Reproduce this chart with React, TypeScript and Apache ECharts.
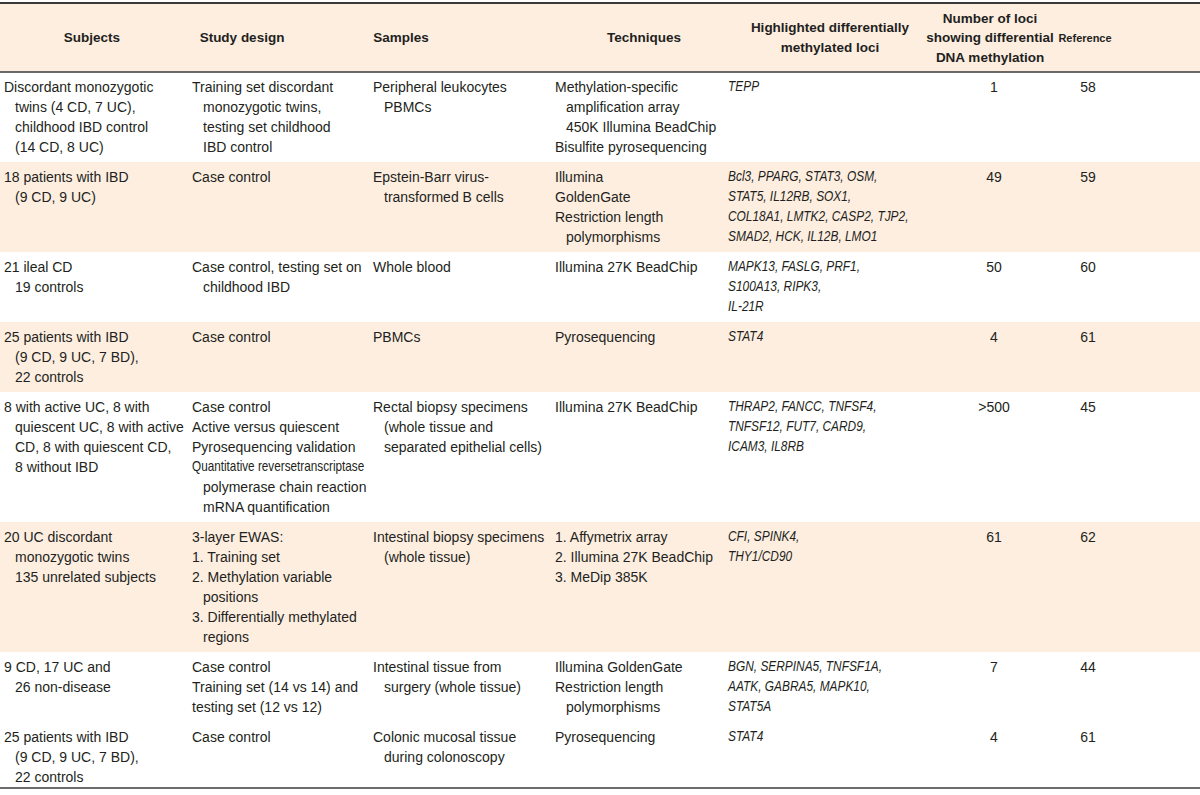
import React, { useEffect, useRef } from 'react';
import * as echarts from 'echarts';

// ---------- DATA ----------
// A leading "  " marks a continuation line (hanging indent) in the original table.
const headers: string[][] = [
  ['Subjects'],
  ['Study design'],
  ['Samples'],
  ['Techniques'],
  ['Highlighted differentially', 'methylated loci'],
  ['Number of loci', 'showing differential', 'DNA methylation'],
  ['Reference'],
];

const subjects: string[][] = [
  ['Discordant monozygotic', '  twins (4 CD, 7 UC),', '  childhood IBD control', '  (14 CD, 8 UC)'],
  ['18 patients with IBD', '  (9 CD, 9 UC)'],
  ['21 ileal CD', '  19 controls'],
  ['25 patients with IBD', '  (9 CD, 9 UC, 7 BD),', '  22 controls'],
  ['8 with active UC, 8 with', '  quiescent UC, 8 with active', '  CD, 8 with quiescent CD,', '  8 without IBD'],
  ['20 UC discordant', '  monozygotic twins', '  135 unrelated subjects'],
  ['9 CD, 17 UC and', '  26 non-disease'],
  ['25 patients with IBD', '  (9 CD, 9 UC, 7 BD),', '  22 controls'],
];

const studyDesign: string[][] = [
  ['Training set discordant', '  monozygotic twins,', '  testing set childhood', '  IBD control'],
  ['Case control'],
  ['Case control, testing set on', '  childhood IBD'],
  ['Case control'],
  ['Case control', 'Active versus quiescent', 'Pyrosequencing validation', 'Quantitative reversetranscriptase', '  polymerase chain reaction', '  mRNA quantification'],
  ['3-layer EWAS:', '1. Training set', '2. Methylation variable', '  positions', '3. Differentially methylated', '  regions'],
  ['Case control', 'Training set (14 vs 14) and', 'testing set (12 vs 12)'],
  ['Case control'],
];

const samples: string[][] = [
  ['Peripheral leukocytes', '  PBMCs'],
  ['Epstein-Barr virus-', '  transformed B cells'],
  ['Whole blood'],
  ['PBMCs'],
  ['Rectal biopsy specimens', '  (whole tissue and', '  separated epithelial cells)'],
  ['Intestinal biopsy specimens', '  (whole tissue)'],
  ['Intestinal tissue from', '  surgery (whole tissue)'],
  ['Colonic mucosal tissue', '  during colonoscopy'],
];

const techniques: string[][] = [
  ['Methylation-specific', '  amplification array', '  450K Illumina BeadChip', 'Bisulfite pyrosequencing'],
  ['Illumina', 'GoldenGate', 'Restriction length', '  polymorphisms'],
  ['Illumina 27K BeadChip'],
  ['Pyrosequencing'],
  ['Illumina 27K BeadChip'],
  ['1. Affymetrix array', '2. Illumina 27K BeadChip', '3. MeDip 385K'],
  ['Illumina GoldenGate', 'Restriction length', '  polymorphisms'],
  ['Pyrosequencing'],
];

const loci: string[][] = [
  ['TEPP'],
  ['Bcl3, PPARG, STAT3, OSM,', 'STAT5, IL12RB, SOX1,', 'COL18A1, LMTK2, CASP2, TJP2,', 'SMAD2, HCK, IL12B, LMO1'],
  ['MAPK13, FASLG, PRF1,', 'S100A13, RIPK3,', 'IL-21R'],
  ['STAT4'],
  ['THRAP2, FANCC, TNFSF4,', 'TNFSF12, FUT7, CARD9,', 'ICAM3, IL8RB'],
  ['CFI, SPINK4,', 'THY1/CD90'],
  ['BGN, SERPINA5, TNFSF1A,', 'AATK, GABRA5, MAPK10,', 'STAT5A'],
  ['STAT4'],
];

const lociCounts: string[] = ['1', '49', '50', '4', '>500', '61', '7', '4'];
const references: string[] = ['58', '59', '60', '61', '45', '62', '44', '61'];

const condensedLines: string[] = ['Quantitative reversetranscriptase'];

// ---------- LAYOUT / STYLE ----------
const W = 1200;
const H = 795;
const FONT = '"Liberation Sans", Arial, sans-serif';
const TEXT_COLOR = '#231f20';
const BAND = '#fdeee0';
const RULE = '#3a3a3a';
const HEADER_TOP = 3;
const HEADER_BOTTOM = 72;
const HEADER_MID = 37.5;
const HEADER_LH = 19.5;
const LINE_H = 20;
const FIRST_OFF = 14.5;
const ROW_PAD = 10;
const LAST_ROW_PAD = 6;
const INDENT = 11;
const ITALIC_SCALE = 0.85;
const CONDENSED_SCALE = 0.84;
const colLeft = [4, 192, 373, 555, 728];
const headerCenters = [92, 242, 401, 644, 830, 990, 1085];
const countCenter = 994;
const refCenter = 1088;
const shadedRows = [false, true, false, true, false, true, false, false];

function textEl(t: string, x: number, y: number, font: string, align: string, scaleX = 1) {
  return {
    type: 'text',
    x,
    y,
    scaleX,
    scaleY: 1,
    originX: 0,
    originY: 0,
    z: 3,
    style: {
      text: t,
      fill: TEXT_COLOR,
      font,
      align,
      verticalAlign: 'middle',
      textAlign: align,
      textVerticalAlign: 'middle',
    },
  };
}

function buildGraphics() {
  const els: any[] = [];
  const cols = [subjects, studyDesign, samples, techniques, loci];

  // header band
  els.push({ type: 'rect', shape: { x: 0, y: HEADER_TOP, width: W, height: HEADER_BOTTOM - HEADER_TOP }, style: { fill: BAND }, z: 0 });

  // row bands
  let y = HEADER_BOTTOM;
  const rowTops: number[] = [];
  for (let r = 0; r < subjects.length; r++) {
    const n = Math.max(...cols.map((c) => c[r].length), 1);
    const h = n * LINE_H + (r === subjects.length - 1 ? LAST_ROW_PAD : ROW_PAD);
    rowTops.push(y);
    if (shadedRows[r]) {
      els.push({ type: 'rect', shape: { x: 0, y, width: W, height: h }, style: { fill: BAND }, z: 0 });
    }
    y += h;
  }
  const tableBottom = y;

  // rules
  els.push({ type: 'line', shape: { x1: 0, y1: HEADER_TOP, x2: W, y2: HEADER_TOP }, style: { stroke: RULE, lineWidth: 2 }, z: 2 });
  els.push({ type: 'line', shape: { x1: 0, y1: HEADER_BOTTOM, x2: W, y2: HEADER_BOTTOM }, style: { stroke: RULE, lineWidth: 1.5 }, z: 2 });
  els.push({ type: 'line', shape: { x1: 0, y1: tableBottom, x2: W, y2: tableBottom }, style: { stroke: RULE, lineWidth: 1.5 }, z: 2 });

  // header texts
  headers.forEach((lines, i) => {
    const isRef = i === headers.length - 1;
    lines.forEach((t, k) => {
      const cy = HEADER_MID + (k - (lines.length - 1) / 2) * HEADER_LH;
      els.push(textEl(t, headerCenters[i], cy, `bold ${isRef ? 11 : 13.5}px ${FONT}`, 'center'));
    });
  });

  // body texts
  for (let r = 0; r < subjects.length; r++) {
    const top = rowTops[r];
    cols.forEach((col, c) => {
      col[r].forEach((raw, k) => {
        const indented = raw.startsWith('  ');
        const t = raw.trim();
        const isItalic = c === 4;
        const scale = condensedLines.includes(t) ? CONDENSED_SCALE : isItalic ? ITALIC_SCALE : 1;
        const x = colLeft[c] + (indented ? INDENT : 0);
        els.push(textEl(t, x, top + FIRST_OFF + k * LINE_H, `${isItalic ? 'italic ' : ''}14px ${FONT}`, 'left', scale));
      });
    });
    els.push(textEl(lociCounts[r], countCenter, top + FIRST_OFF, `14px ${FONT}`, 'center'));
    els.push(textEl(references[r], refCenter, top + FIRST_OFF, `14px ${FONT}`, 'center'));
  }
  return els;
}

export default function App() {
  const ref = useRef<HTMLDivElement>(null);
  useEffect(() => {
    document.body.style.margin = '0';
    if (!ref.current) return;
    const chart = echarts.init(ref.current, undefined, { renderer: 'svg' });
    chart.setOption({
      animation: false,
      backgroundColor: '#ffffff',
      graphic: { elements: buildGraphics() },
    });
    return () => chart.dispose();
  }, []);
  return <div ref={ref} style={{ width: W, height: H }} />;
}
